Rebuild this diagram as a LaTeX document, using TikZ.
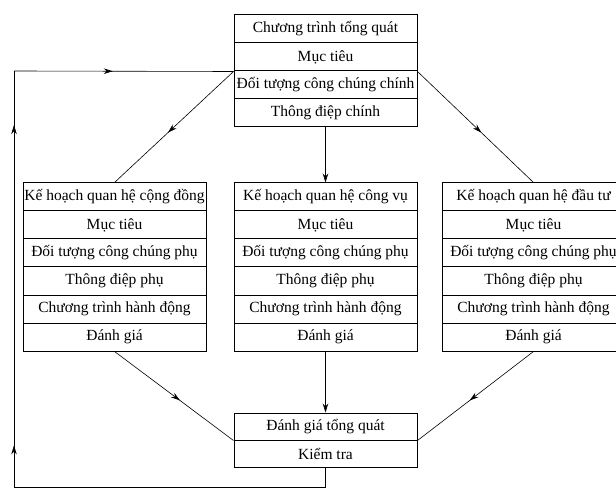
\documentclass[tikz,border=0pt]{standalone}
\usepackage{fontspec}
\setmainfont{Liberation Serif}
\usetikzlibrary{arrows.meta,decorations.markings}
\begin{document}
\begin{tikzpicture}[x=1pt,y=-1pt,
  row/.style={draw,line width=1pt,minimum width=183pt,minimum height=28pt,inner sep=0pt,font=\fontsize{15.5}{17}\selectfont},
  brow/.style={row,minimum height=27pt},
  link/.style={line width=0.6pt},
  midarr/.style={link,postaction={decorate},decoration={markings,mark=at position #1 with {\arrow{Stealth[length=9pt,width=5.5pt]}}}},
  twoarr/.style 2 args={link,postaction={decorate},decoration={markings,mark=at position #1 with {\arrow{Stealth[length=9pt,width=5.5pt]}},mark=at position #2 with {\arrow{Stealth[length=9pt,width=5.5pt]}}}},
  endarr/.style={link,-{Stealth[length=9pt,width=5.5pt]}}]
\useasboundingbox (0,0) rectangle (616,489);
\clip (0,0) rectangle (616,489);
% top box
\node[row] (t1) at (325.5,29) {Chương trình tổng quát};
\node[row] (t2) at (325.5,57) {Mục tiêu};
\node[row] (t3) at (325.5,85) {Đối tượng công chúng chính};
\node[row] (t4) at (325.5,113) {Thông điệp chính};
% left box
\node[row] (l1) at (114.5,197) {Kế hoạch quan hệ cộng đồng};
\node[row] (l2) at (114.5,225) {Mục tiêu};
\node[row] (l3) at (114.5,253) {Đối tượng công chúng phụ};
\node[row] (l4) at (114.5,281) {Thông điệp phụ};
\node[row] (l5) at (114.5,309) {Chương trình hành động};
\node[row] (l6) at (114.5,337) {Đánh giá};
% middle box
\node[row] (m1) at (325.5,197) {Kế hoạch quan hệ công vụ};
\node[row] (m2) at (325.5,225) {Mục tiêu};
\node[row] (m3) at (325.5,253) {Đối tượng công chúng phụ};
\node[row] (m4) at (325.5,281) {Thông điệp phụ};
\node[row] (m5) at (325.5,309) {Chương trình hành động};
\node[row] (m6) at (325.5,337) {Đánh giá};
% right box
\node[row] (r1) at (533.5,197) {Kế hoạch quan hệ đầu tư};
\node[row] (r2) at (533.5,225) {Mục tiêu};
\node[row] (r3) at (533.5,253) {Đối tượng công chúng phụ};
\node[row] (r4) at (533.5,281) {Thông điệp phụ};
\node[row] (r5) at (533.5,309) {Chương trình hành động};
\node[row] (r6) at (533.5,337) {Đánh giá};
% bottom box
\node[brow] (b1) at (325.5,426.5) {Đánh giá tổng quát};
\node[brow] (b2) at (325.5,453.5) {Kiểm tra};
% connectors
\draw[midarr=0.55] (t2.south west) -- (l1.north);
\draw[midarr=0.55] (t2.south east) -- (r1.north);
\draw[endarr] (t4.south) -- (m1.north);
\draw[midarr=0.55] (l6.south) -- (b1.south west);
\draw[midarr=0.55] (r6.south) -- (b1.south east);
\draw[endarr] (m6.south) -- (b1.north);
\coordinate (c1) at (14,487);
\coordinate (c2) at (14,71);
\draw[link] (b2.south) |- (c1);
\draw[twoarr={0.1}{0.87}] (c1) -- (c2);
\draw[midarr=0.45] (c2) -- (t2.south west);
\end{tikzpicture}
\end{document}
